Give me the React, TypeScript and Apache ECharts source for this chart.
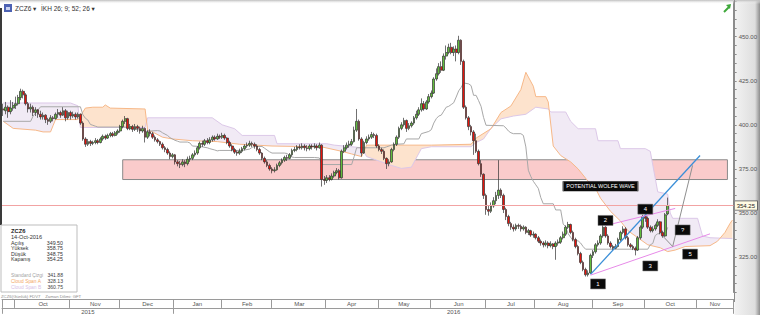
import React, { useEffect, useRef } from "react";
import * as echarts from "echarts";

// ---------- DATA (daily candles: [open, close, low, high]) ----------
const sep15 = [[409,408.5,405,412],[408,410,406,413],[410,407.5,404,411],[407.5,409.5,406,414],[409.5,411,408,413]];
const oct15 = [[411,412,409,416],[412,415.5,411,417],[415.5,419,414,420.5],[419,417,415,420],[417,412,411,418],[412,409,407,413],[409,410,407,412],[410,407,405,411],[407,408.5,405,410],[408.5,406,404,409],[406,404.5,403,408],[404.5,405.5,403,407],[405.5,403,401,406],[403,402,400,404],[402,404,401,405.5],[404,403.5,402,405],[403.5,406,403,407],[406,407,404,409],[407,405.5,404,408],[405.5,408,405,410],[408,404,402,409],[404,407,403,408]];
const nov15 = [[407,405,403,408],[405,406,404,407.5],[406,404.5,403,407],[404.5,406,403.5,407],[406,401,400,406.5],[401,392,391,402],[392,389,387.5,393],[389,390.5,388,392],[390.5,389.5,388,391.5],[389.5,390,388.5,391],[390,391,389,392.5],[391,390,389,392],[390,392,389.5,393],[392,393.5,391,394.5],[393.5,392.5,391.5,394.5],[392.5,394,392,395],[394,395,393,396],[395,394,393,396],[394,395.5,393.5,396.5],[395.5,396.5,394.5,397.5]];
const dec15 = [[396.5,399,395.5,400],[399,402,398,403],[402,403.5,400.5,405],[403.5,398,397,404],[398,399,397,400.5],[399,397.5,396,400],[397.5,399,396.5,400.5],[399,398,396,400],[398,396.5,395,399],[396.5,398,395.5,399.5],[398,393,390,398.5],[393,396,392,397],[396,395,393.5,397.5],[395,393,392,396],[393,391.5,390.5,394],[391.5,390.5,389.5,392.5],[390.5,389,388,391],[389,387,386,390],[387,386,384.5,388],[386,384,383,387],[384,382,380.5,385],[382,383,381,384]];
const jan16 = [[383,379,377.5,383.5],[379,378,376.5,380],[378,377.5,375.5,379.5],[377.5,379,376.5,380.5],[379,378,376,380],[378,380.5,377,382],[380.5,381,379,382.5],[381,383,380,384],[383,384,382,385.5],[384,387,383,388],[387,389.5,386,390.5],[389.5,389,387.5,391],[389,391,388,392],[391,390,389,392.5],[390,391.5,389,393],[391.5,393,390.5,394],[393,392,391,394],[392,393.5,391.5,395],[393.5,393,392,394.5]];
const feb16 = [[393,394,392,395.5],[394,392.5,391.5,395],[392.5,390,389,393],[390,388,387,391],[388,386,385,389],[386,384.5,383.5,387],[384.5,384,382.5,385.5],[384,385,383,386.5],[385,386.5,384,387.5],[386.5,388,385.5,389],[388,388.5,387,390],[388.5,389.5,387.5,391],[389.5,389,387.5,390.5],[389,388,386.5,390],[388,386,385,389],[386,384,383,387],[384,381,380,384.5],[381,379,378,382],[379,377,376,380],[377,375,374,378]];
const mar16 = [[375,374,372.5,376],[374,374.5,373,376],[374.5,377,374,378],[377,378.5,376,379.5],[378.5,380,377.5,381],[380,381.5,379,382.5],[381.5,381,379.5,383],[381,383,380.5,384],[383,385.5,382,386.5],[385.5,386,384.5,387.5],[386,387.5,385,388.5],[387.5,387,386,389],[387,388,386,389.5],[388,387,385.5,389],[387,386.5,385,388.5],[386.5,388,385.5,389],[388,387.5,386,389],[387.5,388,386.5,389.5],[388,387,385.5,389],[387,388.5,386.5,390],[388.5,369,365,389],[369,368.5,366,371]];
const apr16 = [[368.5,370,367,371.5],[370,369,368,371.5],[369,371,368.5,372.5],[371,373,370,374],[373,374,372,375.5],[374,370,369,375],[370,385,369.5,386],[385,387,384,388.5],[387,388.5,386,390],[388.5,389,387,391],[389,390.5,388,392],[390.5,397,390,399],[397,402,396,409],[402,392,391,403],[392,384,382,393],[384,390,383.5,391],[390,392,389,393.5],[392,393,391,394.5],[393,394.5,392,396],[394.5,394,392.5,395.5],[394,388,387,395]];
const may16 = [[388,386,385,389],[386,385,383.5,387],[385,381,380,386],[381,378,375,381.5],[378,379,376.5,380.5],[379,386,378.5,387],[386,389,385,390],[389,393,388,394],[393,398,392,399],[398,400,397,401.5],[400,402.5,399,404],[402.5,398,396,403],[398,399.5,397,401],[399.5,401,398.5,402],[401,404,400,405],[404,406,403,408],[406,408.5,405,410],[408.5,412,407.5,415],[412,409,408,413.5],[409,413,408.5,414],[413,416,412,417.5]];
const jun16 = [[416,418,415,419.5],[418,426,417.5,427],[426,429,425,432],[429,433,428,435],[433,431,429.5,436],[431,439,430.5,440.5],[439,441,437,445],[441,444,440,446],[444,441,440,446.5],[441,443,439,444.5],[443,441,436,445],[441,448,440,450.5],[448,436,434,448.5],[436,410,409,437],[410,404,403,411],[404,399,397,405],[399,396,394,400],[396,391,383,397],[391,385,384,395],[385,378,377,386],[378,372,370.5,380],[372,360,358,372.5]];
const jul16 = [[360,352,349,361],[352,351,348.5,354],[351,354,350,356],[354,357,353,359],[357,360,355,362],[360,363,358,380],[363,360,358.5,364],[360,352,350,361],[352,348,346,353],[348,344,342.5,349],[344,342,340.5,345],[342,341,339.5,343.5],[341,343,340,344],[343,342.5,341,344],[342.5,341,339.5,343.5],[341,342,340,343],[342,339,338,342.5],[339,340,337.5,341],[340,337.5,336.5,340.5],[337.5,338,336,339.5]];
const aug16 = [[338,336,335,338.5],[336,334,333,337],[334,333,331.5,335],[333,332,330.5,334],[332,333,331,334.5],[333,331.5,330,334],[331.5,332.5,330.5,334],[332.5,331,329.5,333],[331,333,323.5,334],[333,333.5,331.5,335],[333.5,336,332.5,337],[336,338,335,339.5],[338,342,337,343],[342,343.5,341,345],[343.5,339,338,344],[339,335,334,340],[335,331,330,336],[331,327,326,332],[327,322,321,328],[322,318,317,323],[318,315,314,319],[315,316,314,317.5],[316,326,315.5,327]];
const sep16 = [[326,328,324.5,329],[328,332,327,333],[332,333,331,334.5],[333,337,332,338],[337,342,336,345],[342,337,336,342.5],[337,333,332,338],[333,331,330,334],[331,330,329,332],[330,331,329.5,332.5],[331,335,330.5,336],[335,339,334,340],[339,341,338,342.5],[341,336,335,342],[336,332,331,337],[332,331,330,333],[331,330,329,332],[330,329,326,331],[329,336,328.5,337],[336,342,335,343],[342,348,341,349]];
const oct16 = [[348,347,345,350],[347,342,341,348],[342,340,339,343],[340,341,339,342.5],[341,343,340,344],[343,345,342,346.5],[345,339,338,345.5],[339,337,336,340],[337,349,336.5,350],[349.5,354.25,348.75,358.75]];

// Ichimoku lines, [bar index, value] vertices
const kijun = [[0,402],[11,402],[12,405],[15,410.25],[31,410.25],[32,405.75],[33,403.75],[34,402.75],[35,400.25],[36,399.75],[37,399.25],[38,398.75],[49,398.75],[50,398.25],[51,397.75],[53,397.5],[54,397.25],[56,397],[57,396.25],[59,396.5],[62,396.75],[63,396.5],[64,395.5],[65,394.75],[66,394],[67,392.75],[69,391.25],[70,390.75],[71,390.25],[74,390.25],[75,389.75],[76,388],[79,387.75],[80,387.5],[82,387],[83,386.5],[85,385.75],[86,385.25],[87,385.5],[96,385.5],[97,385.75],[99,386.25],[100,387.25],[101,387.75],[104,387.75],[105,386.75],[106,385.75],[107,384.75],[108,384],[113,384],[114,383.75],[115,382.75],[116,381.75],[117,381.5],[125,381.5],[127,381.25],[128,377.5],[140,377.5],[141,382],[142,387],[153,387],[154,387.5],[155,388],[156,388.5],[158,389],[161,389.25],[162,392],[167,392],[168,395],[171,396.25],[172,397.25],[173,401],[174,403.5],[175,405],[176,405.5],[177,407.75],[178,410],[179,410.5],[180,411.5],[181,412.5],[182,415.75],[183,419.25],[184,421.25],[185,423.75],[187,423.25],[188,422.25],[189,416.75],[190,416.75],[191,413.75],[192,410.5],[193,404.25],[194,399.75],[201,399.5],[202,398.25],[203,396.5],[204,395.5],[205,395],[208,395],[209,394],[210,387.5],[211,374.25],[212,370.75],[213,368],[214,366],[215,364],[216,358.75],[217,355.25],[221,355.25],[222,351.75],[224,351.75],[225,343.75],[226,342.25],[227,338.25],[228,336.25],[229,334.25],[231,334.25],[232,333],[233,331],[234,329.5],[259,329.5],[260,332],[261,332.75],[262,337.25],[263,338.25],[265,338.25],[266,338],[267,341.88]];
const spanA = [[0,402],[4,398],[13,397],[16,396],[19,396],[20,399.5],[21,403],[30,403],[31,405],[33,409.5],[36,410],[40,410],[41,411.3],[43,409.5],[57,409],[58,397],[60,396],[64,393],[68,392],[76,391],[86,390.5],[95,389],[108,388],[128,387.5],[136,385],[140,383.5],[144,382],[146,388.5],[172,388.5],[188,389],[190,392.5],[196,397.8],[200,407],[204,410.7],[208,420],[210,429.8],[213,421.9],[214,416],[218,416],[219,413],[221,388],[224,382.6],[228,379],[231,375],[235,368],[238,364],[240,358.4],[244,351],[248,345.5],[251,340],[255,336],[259,332],[264,330.3],[267,328.13],[270,329],[274,331],[284,331.5],[287,334],[290,339],[292,344],[293,346]];
const spanB = [[0,412.4],[27,412.4],[30,410.8],[31,398.5],[57,398.5],[58,404],[84,404],[88,400],[93,397.8],[96,394],[109,394],[110,389.3],[130,389.3],[133,388.5],[140,387.6],[144,387],[146,382],[150,380],[156,377],[160,375.3],[164,376],[168,386.5],[172,387.6],[188,387.6],[190,390],[193,392],[196,398],[200,403.4],[205,405],[210,406],[214,410],[219,409],[220,407.3],[226,407.3],[228,402],[231,397.8],[238,397.8],[239,391],[247,391],[248,386.5],[258,386.5],[260,385],[263,362],[267,360.75],[268,350],[269,347],[279,347],[281,337],[284,336],[293,335.5]];

const zoneLow = 369;
const zoneHigh = 380.2;
const zoneStart = 48;
const zoneEnd = 291;
const lastClose = 354.25;

const wolfeLines = [
  { from: [236, 315.2], to: [280, 382.6], color: "#3b8fd8", width: 1.3 },
  { from: [242, 342.9], to: [270, 352.6], color: "#e78ae8", width: 1 },
  { from: [236, 314.8], to: [284, 338.2], color: "#e78ae8", width: 1 },
  { from: [265, 337], to: [269, 331], color: "#8f8f8f", width: 1 },
  { from: [269, 331], to: [277, 377], color: "#8f8f8f", width: 1 },
];
const wolfeLabels = [
  { text: "1", i: 239, p: 309.8 },
  { text: "2", i: 242, p: 345.8 },
  { text: "3", i: 260, p: 320 },
  { text: "4", i: 258, p: 352.2 },
  { text: "?", i: 273, p: 340.4 },
  { text: "5", i: 276, p: 326.7 },
];
const wolfeTitle = { text: "POTENTIAL WOLFE WAVE", i: 240, p: 365.2 };

const infoRows = [["Açılış", "349.50"], ["Yüksek", "358.75"], ["Düşük", "348.75"], ["Kapanış", "354.25"]];
const indicatorRows = [["Standard Çizgi", "341.88", "#a3a3a3"], ["Cloud Span A", "328.13", "#f3a867"], ["Cloud Span B", "360.75", "#d7bfe6"]];

const monthNames = ["Jan", "Feb", "Mar", "Apr", "May", "Jun", "Jul", "Aug", "Sep", "Oct", "Nov", "Dec"];
const holidays = ["2015-11-26", "2015-12-25", "2016-01-01", "2016-01-18", "2016-02-15", "2016-03-25", "2016-05-30", "2016-07-04", "2016-09-05", "2016-11-24"];
const futureBars = 26;

const candles = [...sep15, ...oct15, ...nov15, ...dec15, ...jan16, ...feb16, ...mar16, ...apr16, ...may16, ...jun16, ...jul16, ...aug16, ...sep16, ...oct16];
const TOTAL = candles.length + futureBars;

function buildDates(): string[] {
  const out: string[] = [];
  const d = new Date(Date.UTC(2015, 8, 24));
  while (out.length < TOTAL) {
    const dow = d.getUTCDay();
    const s = d.toISOString().slice(0, 10);
    if (dow !== 0 && dow !== 6 && holidays.indexOf(s) < 0) out.push(s);
    d.setUTCDate(d.getUTCDate() + 1);
  }
  return out;
}

function valuesAt(pts: number[][], n: number): number[] {
  const out: number[] = [];
  let k = 0;
  for (let i = 0; i < n; i++) {
    while (k < pts.length - 2 && pts[k + 1][0] < i) k++;
    const [x0, y0] = pts[k];
    const [x1, y1] = pts[k + 1];
    const t = x1 === x0 ? 0 : Math.min(1, Math.max(0, (i - x0) / (x1 - x0)));
    out.push(y0 + t * (y1 - y0));
  }
  return out;
}

const FONT = "'Liberation Sans', 'DejaVu Sans', sans-serif";

export default function App() {
  const ref = useRef<HTMLDivElement>(null);
  useEffect(() => {
    if (!ref.current) return;
    const chart = echarts.init(ref.current, undefined, { renderer: "svg" });
    const dates = buildDates();

    const monthStarts = new Set<number>([0]);
    const segs: number[][] = [];
    let segStart = 0;
    for (let i = 1; i <= dates.length; i++) {
      if (i === dates.length || dates[i].slice(0, 7) !== dates[i - 1].slice(0, 7)) {
        segs.push([segStart, i - 1]);
        if (i < dates.length) monthStarts.add(i);
        segStart = i;
      }
    }
    const monthLabel = new Map<number, string>();
    segs.forEach(([s, e]) => {
      if (e - s + 1 < 8) return;
      const mid = Math.round((s + e) / 2);
      monthLabel.set(mid, monthNames[parseInt(dates[s].slice(5, 7), 10) - 1]);
    });
    const yearStarts = new Set<number>([0]);
    const yearSegs: number[][] = [];
    let ys = 0;
    for (let i = 1; i <= dates.length; i++) {
      if (i === dates.length || dates[i].slice(0, 4) !== dates[i - 1].slice(0, 4)) {
        yearSegs.push([ys, i - 1]);
        if (i < dates.length) yearStarts.add(i);
        ys = i;
      }
    }
    const yearLabel = new Map<number, string>();
    yearSegs.forEach(([s, e]) => yearLabel.set(Math.round((s + e) / 2), dates[s].slice(0, 4)));

    const aVals = valuesAt(spanA, TOTAL);
    const bVals = valuesAt(spanB, TOTAL);

    const cloudRender = (params: any, api: any) => {
      const p0 = api.coord([0, 400]);
      const p1 = api.coord([1, 400]);
      const bw = p1[0] - p0[0];
      const X = (t: number) => p0[0] + t * bw;
      const Y = (v: number) => api.coord([0, v])[1];
      const children: any[] = [];
      let top: number[][] = [];
      let bot: number[][] = [];
      let sign = 0;
      const flush = () => {
        if (top.length > 1)
          children.push({
            type: "polygon",
            shape: { points: top.concat(bot.slice().reverse()) },
            style: { fill: sign > 0 ? "#fde3cd" : "#f1eaf5", stroke: null },
          });
      };
      for (let i = 0; i < TOTAL; i++) {
        const d = aVals[i] - bVals[i];
        const s = d >= 0 ? 1 : -1;
        if (i > 0 && s !== sign) {
          const dp = aVals[i - 1] - bVals[i - 1];
          const t = dp / (dp - d);
          const vc = aVals[i - 1] + t * (aVals[i] - aVals[i - 1]);
          const pt = [X(i - 1 + t), Y(vc)];
          top.push(pt);
          bot.push(pt);
          flush();
          top = [pt];
          bot = [pt];
        }
        sign = s;
        top.push([X(i), Y(aVals[i])]);
        bot.push([X(i), Y(bVals[i])]);
      }
      flush();
      return { type: "group", children };
    };

    const txt = (x: number, y: number, text: string, size: number, fill: string, opts: any = {}) => ({
      type: "text",
      x,
      y,
      z: 100,
      silent: true,
      style: {
        text,
        fill,
        font: `${opts.bold ? "bold " : ""}${size}px ${FONT}`,
        align: opts.align || "left",
        textAlign: opts.align || "left",
        verticalAlign: "middle",
        textVerticalAlign: "middle",
      },
    });

    const graphics: any[] = [
      { type: "rect", z: 100, silent: true, shape: { x: 0, y: 0, width: 760, height: 4 },
        style: { fill: { type: "linear", x: 0, y: 0, x2: 0, y2: 1, colorStops: [{ offset: 0, color: "#bdbdbd" }, { offset: 1, color: "rgba(255,255,255,0)" }] } } },
      { type: "rect", z: 100, silent: true, shape: { x: 0, y: 8, width: 2, height: 217 }, style: { fill: "#3a3a3a" } },
      { type: "rect", z: 100, silent: true, shape: { x: 4, y: 4, width: 8, height: 8 }, style: { fill: "#4d62b3" } },
      { type: "rect", z: 100, silent: true, shape: { x: 6, y: 7, width: 4, height: 3 }, style: { fill: "#c9d2f0" } },
      txt(15, 8.5, "ZCZ6 ▾", 6.5, "#333"),
      txt(41, 8.5, "İKH 26; 9; 52; 26 ▾", 6.5, "#333"),
      { type: "line", z: 100, silent: true, shape: { x1: 724, y1: 12, x2: 729, y2: 7 }, style: { stroke: "#3ea83a", lineWidth: 2 } },
      { type: "polygon", z: 100, silent: true, shape: { points: [[726, 5], [731, 4], [730, 9]] }, style: { fill: "#3ea83a" } },
      { type: "line", z: 100, silent: true, shape: { x1: 734.5, y1: 0, x2: 734.5, y2: 302 }, style: { stroke: "#8c8c8c", lineWidth: 1 } },
      { type: "rect", z: 100, silent: true, shape: { x: 1, y: 225, width: 76, height: 67 }, style: { fill: "#ffffff", stroke: "#bdbdbd", lineWidth: 1 } },
      txt(11, 231, "ZCZ6", 5.8, "#222", { bold: true }),
      txt(11, 237, "14-Oct-2016", 5.6, "#333"),
      ...infoRows.flatMap((r, k) => [txt(11, 243 + k * 5.4, r[0], 5.3, "#333"), txt(63, 243 + k * 5.4, r[1], 5.3, "#333", { align: "right" })]),
      ...indicatorRows.flatMap((r, k) => [txt(11, 275 + k * 6, r[0], 4.9, r[2]), txt(63, 275 + k * 6, r[1], 5.1, "#444", { align: "right" })]),
      txt(1, 296.5, "ZCZ6(Günlük) FDV7    Zaman Dilimi: GFT", 4.3, "#8a8a8a"),
    ];

    const option: any = {
      animation: false,
      textStyle: { fontFamily: FONT },
      grid: { left: 2, right: 26, top: 1.4, bottom: 19.9, containLabel: false },
      xAxis: [
        {
          type: "category", data: dates, position: "bottom", offset: 7, boundaryGap: true,
          axisLine: { show: true, lineStyle: { color: "#9a9a9a", width: 1 } },
          axisTick: { show: true, interval: (i: number) => monthStarts.has(i), length: 8.5, lineStyle: { color: "#9a9a9a" } },
          axisLabel: { interval: (i: number) => monthLabel.has(i), formatter: (_v: string, i: number) => monthLabel.get(i) || "", fontSize: 6, color: "#555", margin: 1.5 },
          splitLine: { show: false },
        },
        {
          type: "category", data: dates, position: "bottom", offset: 15.4, boundaryGap: true,
          axisLine: { show: true, lineStyle: { color: "#9a9a9a", width: 1 } },
          axisTick: { show: true, interval: (i: number) => yearStarts.has(i), length: 6, lineStyle: { color: "#9a9a9a" } },
          axisLabel: { interval: (i: number) => yearLabel.has(i), formatter: (_v: string, i: number) => yearLabel.get(i) || "", fontSize: 6, color: "#555", margin: 1.2 },
          splitLine: { show: false },
        },
      ],
      yAxis: {
        type: "value", position: "right", min: 305, max: 470, interval: 5,
        axisLine: { show: true, lineStyle: { color: "#8c8c8c" } },
        axisTick: { show: true, length: 3, lineStyle: { color: "#8c8c8c" } },
        axisLabel: { formatter: (v: number) => (v % 25 === 0 ? v.toFixed(2) : ""), fontSize: 6, color: "#555", margin: 5 },
        splitLine: { show: false },
      },
      series: [
        { type: "custom", name: "cloud", z: 1, silent: true, renderItem: cloudRender, data: [[0, 400]], encode: { x: 0, y: 1 } },
        { type: "line", name: "Cloud Span B", z: 2, silent: true, data: spanB, showSymbol: false, lineStyle: { color: "#dcc8e8", width: 1 } },
        { type: "line", name: "Cloud Span A", z: 2, silent: true, data: spanA, showSymbol: false, lineStyle: { color: "#f7b888", width: 1 } },
        {
          type: "line", name: "zone", z: 3, silent: true, data: [],
          markArea: {
            silent: true,
            itemStyle: { color: "rgba(240,105,105,0.35)", borderColor: "#8a8a8a", borderWidth: 1 },
            data: [[{ coord: [zoneStart, zoneHigh] }, { coord: [zoneEnd, zoneLow] }]],
          },
        },
        { type: "line", name: "Standard Çizgi", z: 3, silent: true, data: kijun, showSymbol: false, lineStyle: { color: "#a8a8a8", width: 1 } },
        {
          type: "candlestick", name: "ZCZ6", z: 4, silent: true, data: candles, barWidth: 2.2,
          itemStyle: { color: "#62bd3c", color0: "#e5140c", borderColor: "#333333", borderColor0: "#333333", borderWidth: 0.7 },
        },
        {
          type: "line", name: "annotations", z: 6, silent: true, data: [],
          markLine: {
            silent: true, symbol: "none", animation: false,
            data: [
              {
                yAxis: lastClose,
                lineStyle: { color: "#f2a3a3", width: 1, type: "solid" },
                label: { show: true, position: "end", formatter: lastClose.toFixed(2), fontSize: 6, color: "#222", backgroundColor: "#fffbe3", borderColor: "#555", borderWidth: 0.8, padding: [1.5, 2, 1, 2], distance: 1 },
              },
              ...wolfeLines.map((l) => [
                { coord: l.from, lineStyle: { color: l.color, width: l.width, type: "solid" }, label: { show: false } },
                { coord: l.to, lineStyle: { color: l.color, width: l.width, type: "solid" }, label: { show: false } },
              ]),
            ],
          },
          markPoint: {
            silent: true, animation: false,
            data: [
              ...wolfeLabels.map((w) => ({
                coord: [w.i, w.p], symbol: "rect", symbolSize: [15, 10],
                itemStyle: { color: "#0a0a0a", borderColor: "#777", borderWidth: 0.5 },
                label: { show: true, position: "inside", formatter: w.text, color: "#fff", fontSize: 6 },
              })),
              {
                coord: [wolfeTitle.i, wolfeTitle.p], symbol: "rect", symbolSize: [75, 10],
                itemStyle: { color: "#0a0a0a", borderColor: "#777", borderWidth: 0.5 },
                label: { show: true, position: "inside", formatter: wolfeTitle.text, color: "#fff", fontSize: 5.5 },
              },
            ],
          },
        },
      ],
      graphic: graphics,
    };
    chart.setOption(option);
    return () => chart.dispose();
  }, []);
  return (
    <div
      ref={ref}
      style={{
        position: "fixed", left: 0, top: 0, width: 760, height: 315,
        background: "linear-gradient(to right, #ffffff 0px, #ffffff 734px, #f2f2f2 735px, #dedede 755px, #8d8d8d 760px)",
      }}
    />
  );
}
